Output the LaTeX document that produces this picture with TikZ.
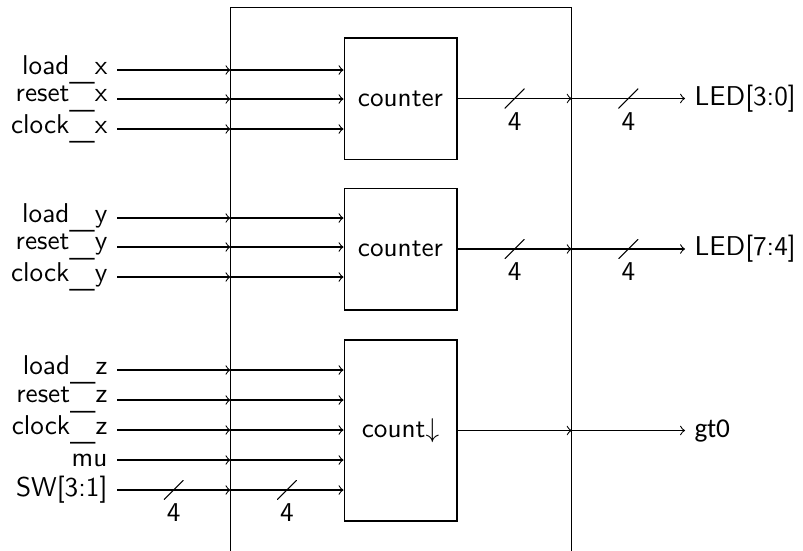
\documentclass[tikz,border=0pt]{standalone}
\usepackage{fontspec}
\newfontfamily\gtfont{Carlito}
\usetikzlibrary{positioning}
% low, wide underscore for the signal names
\newcommand\usc{\raisebox{-2.4pt}{\scalebox{1.4}[0.8]{\_}}}

\begin{document}
\begin{tikzpicture}[x=0.3675pt, y=-0.3675pt, font=\sffamily,
		block/.style={draw, minimum width=41.5pt, inner sep=0pt},
		bus/.style={minimum size=7.3pt, inner sep=0pt,
			path picture={\draw (path picture bounding box.south west) -- (path picture bounding box.north east);},
			label={[inner sep=1pt]below:#1}},
		]
		\useasboundingbox (0,0) rectangle (803,550);
		%Top level box and the three counters
		\node[draw, minimum width=125pt, minimum height=200pt] (chip) at (401,280) {};
		\node[block, minimum height=44.5pt] (cntx) at (400.5,98.5) {counter};
		\node[block, minimum height=44.8pt] (cnty) at (400.5,249) {counter};
		\node[block, minimum height=66.5pt] (cntz) at (400.5,430.5) {count$\downarrow$};

		%Inputs
		\foreach \txt/\yy/\dst [count=\i] in {load\usc x/70/cntx, reset\usc x/99/cntx, clock\usc x/129/cntx,
				load\usc y/218/cnty, reset\usc y/247/cnty, clock\usc y/277/cnty,
				load\usc z/370/cntz, reset\usc z/400/cntz, clock\usc z/430/cntz, mu/460/cntz}
		{
			\node[anchor=east] (in\i) at (117,\yy) {\txt};
			\draw[->] (in\i.east) -- (in\i.east -| chip.west);
			\draw[->] (in\i.east -| chip.west) -- (in\i.east -| \dst.west);
		}
		\node[anchor=east] (sw) at (117,490) {SW[3:1]};
		\draw[->] (sw.east) -- coordinate (b1) (sw.east -| chip.west);
		\draw[->] (sw.east -| chip.west) -- coordinate (b2) (sw.east -| cntz.west);

		%Outputs
		\node[anchor=west] (ledlo) at (685,98.5) {LED[3:0]};
		\node[anchor=west] (ledhi) at (685,249) {LED[7:4]};
		\node[anchor=west] (gt) at (685,430.5) {\gtfont gt0};
		\draw[->] (cntx.east) -- coordinate (b3) (cntx.east -| chip.east);
		\draw[->] (cntx.east -| chip.east) -- coordinate (b4) (ledlo.west);
		\draw[->] (cnty.east) -- coordinate (b5) (cnty.east -| chip.east);
		\draw[->] (cnty.east -| chip.east) -- coordinate (b6) (ledhi.west);
		\draw[->] (cntz.east) -- (cntz.east -| chip.east);
		\draw[->] (cntz.east -| chip.east) -- (gt.west);

		%Bus widths
		\foreach \b in {b1,b2,b3,b4,b5,b6}
			\node[bus=4] at (\b) {};
\end{tikzpicture}
\end{document}
